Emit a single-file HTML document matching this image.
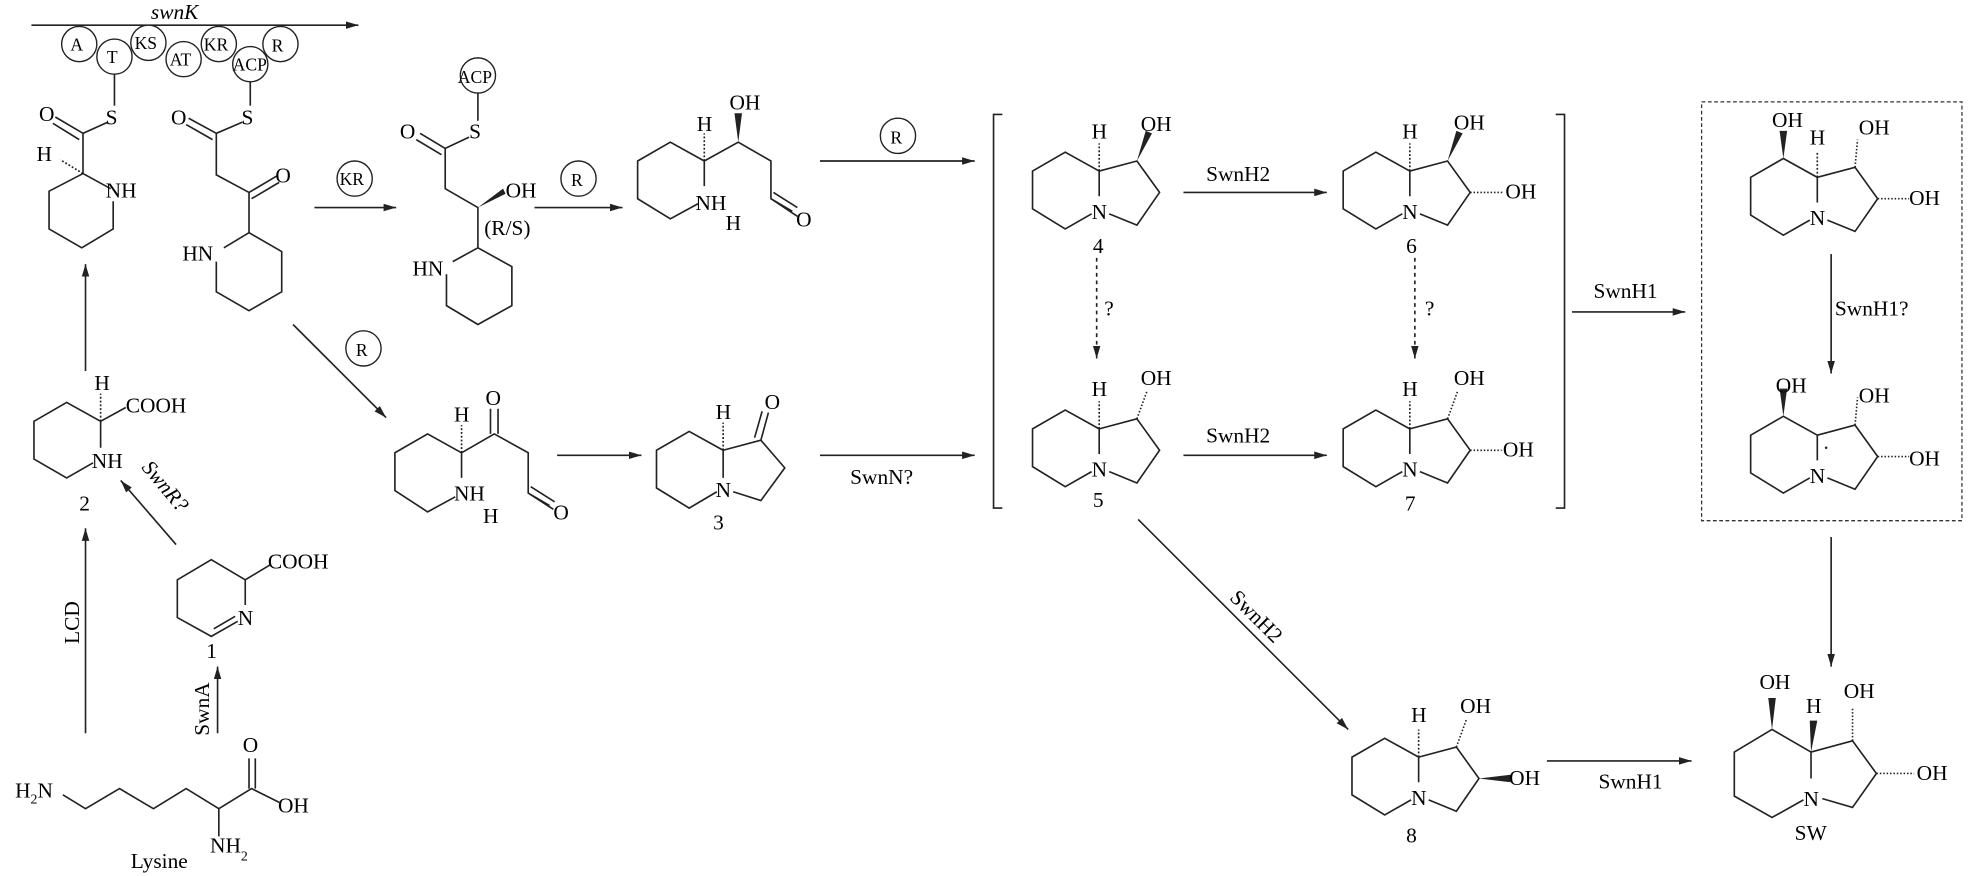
<!DOCTYPE html>
<html><head><meta charset="utf-8"><style>
html,body{margin:0;padding:0;background:#fff}
svg{display:block}
text{font-family:"Liberation Serif",serif;font-size:17px;fill:#000}
.l{stroke:#222;stroke-width:1.3;fill:none}
.c{stroke:#222;stroke-width:1.1;fill:#fff}
.s{font-size:14px}
</style></head><body>
<svg width="1972" height="876" viewBox="0 0 1568 696.5" xmlns="http://www.w3.org/2000/svg">
<defs><marker id="a" markerWidth="10" markerHeight="6" refX="10" refY="3" orient="auto" markerUnits="userSpaceOnUse"><path d="M0,0L10,3L0,6z" fill="#222"/></marker></defs>

<!-- swnK top -->
<line class="l" x1="25" y1="20" x2="285" y2="20" marker-end="url(#a)"/>
<text x="120" y="15" font-style="italic">swnK</text>
<line class="l" x1="91" y1="58" x2="91" y2="84"/><line class="l" x1="199" y1="64" x2="199" y2="84"/>
<g class="s">
<circle class="c" cx="63" cy="35" r="14"/><text x="56" y="40" class="s">A</text>
<circle class="c" cx="91" cy="45" r="14"/><text x="85" y="50" class="s">T</text>
<circle class="c" cx="118" cy="34" r="14"/><text x="107" y="39" class="s">KS</text>
<circle class="c" cx="146" cy="47" r="14"/><text x="135" y="52" class="s">AT</text>
<circle class="c" cx="174" cy="35" r="14"/><text x="162" y="40" class="s">KR</text>
<circle class="c" cx="223" cy="35" r="14"/><text x="216" y="41" class="s">R</text>
<circle class="c" cx="199" cy="51" r="14"/><text x="185" y="56" class="s">ACP</text>
</g>
<!-- Structure A -->
<path class="l" d="M86,97L66,106L66,138M66,138L88,150M90,160L90,182L65,197L39,182L39,152L66,138"/>
<path class="l" d="M66,106L44,93M63,111L42,98"/>
<path class="l" d="M66,138L48,127" stroke-dasharray="1.5,1.5" stroke-width="3"/>
<text x="84" y="99">S</text><text x="31" y="96">O</text><text x="29" y="128">H</text><text x="84" y="157">NH</text>
<!-- Structure B -->
<path class="l" d="M193,97L172,106L172,139L198,153L198,185L178,197M172,208L172,232L198,247L224,232L224,200L198,185"/>
<path class="l" d="M172,106L150,94M169,111L148,99M198,153L220,140M200,158L222,145"/>
<text x="192" y="99">S</text><text x="136" y="99">O</text><text x="219" y="145">O</text><text x="145" y="207">HN</text>
<!-- KR arrow -->
<line class="l" x1="250" y1="165" x2="315" y2="165" marker-end="url(#a)"/>
<circle class="c" cx="282" cy="142" r="14"/><text x="270" y="147" class="s">KR</text>
<!-- Structure C -->
<circle class="c" cx="380" cy="60" r="14"/><text x="364" y="66" class="s">ACP</text>
<path class="l" d="M380,74L380,96M373,109L354,118L354,150L380,165L380,197L360,208M355,218L355,243L380,258L407,243L407,212L380,197"/>
<path class="l" d="M354,118L334,106M351,123L331,111"/>
<path d="M380,165L400,150L402,154z" fill="#222"/>
<text x="373" y="110">S</text><text x="318" y="110">O</text><text x="402" y="157">OH</text><text x="385" y="187">(R/S)</text><text x="328" y="219">HN</text>
<!-- R arrow -->
<line class="l" x1="425" y1="165" x2="495" y2="165" marker-end="url(#a)"/>
<circle class="c" cx="460" cy="142" r="14"/><text x="454" y="148" class="s">R</text>
<!-- Structure D -->
<path class="l" d="M560,128L533,113L507,128L507,158L533,174L555,162M560,128L560,148M560,128L587,113L613,128L613,158L634,172M613,158L630,168M615,153L634,165"/>
<path d="M587,113L584,90L590,90z" fill="#222"/>
<path class="l" d="M560,128L560,106" stroke-dasharray="1.5,1.5" stroke-width="3"/>
<text x="580" y="87">OH</text><text x="554" y="104">H</text><text x="553" y="167">NH</text><text x="577" y="183">H</text><text x="633" y="180">O</text>
<line class="l" x1="652" y1="128" x2="775" y2="128" marker-end="url(#a)"/>
<circle class="c" cx="714" cy="108" r="14"/><text x="708" y="114" class="s">R</text>
<!-- lower R arrow -->
<line class="l" x1="233" y1="258" x2="307" y2="332" marker-end="url(#a)"/>
<circle class="c" cx="289" cy="277" r="14"/><text x="283" y="283" class="s">R</text>
<!-- Structure E -->
<path class="l" d="M367,360L340,345L314,360L314,390L340,407L362,395M367,360L367,380M367,360L393,345L420,360L420,392L440,405M420,392L437,402M422,387L441,399M390,345L390,325M396,345L396,325"/>
<path class="l" d="M367,360L367,338" stroke-dasharray="1.5,1.5" stroke-width="3"/>
<text x="361" y="335">H</text><text x="386" y="322">O</text><text x="361" y="398">NH</text><text x="384" y="416">H</text><text x="440" y="413">O</text>
<line class="l" x1="443" y1="362" x2="510" y2="362" marker-end="url(#a)"/>
<!-- 3 -->
<path class="l" d="M575,358L548,343L522,358L522,388L548,404L570,391M575,358L575,380M575,358L605,350L624,372L605,398L583,391M605,350L611,328M600,348L606,327"/>
<path class="l" d="M575,358L575,336" stroke-dasharray="1.5,1.5" stroke-width="3"/>
<text x="569" y="333">H</text><text x="608" y="325">O</text><text x="569" y="395">N</text><text x="567" y="421">3</text>
<line class="l" x1="652" y1="362" x2="775" y2="362" marker-end="url(#a)"/>
<text x="676" y="385">SwnN?</text>
<!-- brackets -->
<path class="l" d="M797,91L790,91L790,404L797,404M1237,91L1244,91L1244,404L1237,404"/>

<!-- compound 4 -->
<g transform="translate(874,168)">
<path class="l" d="M0,-32L-27,-47L-53,-32L-53,-2L-27,14L-6,2M0,-32L0,-12M0,-32L30,-40L48,-15L30,11L8,2"/>
<path class="l" d="M0,-32L0,-54" stroke-dasharray="1.5,1.5" stroke-width="3"/>
<path d="M30,-40L37,-64L42,-62z" fill="#222"/>
<text x="-6" y="-58">H</text><text x="33" y="-64">OH</text><text x="-6" y="6">N</text><text x="-5" y="33">4</text>
</g>
<line class="l" x1="941" y1="153" x2="1055" y2="153" marker-end="url(#a)"/>
<text x="959" y="144">SwnH2</text>
<!-- compound 6 -->
<g transform="translate(1121,168)">
<path class="l" d="M0,-32L-27,-47L-53,-32L-53,-2L-27,14L-6,2M0,-32L0,-12M0,-32L30,-40L48,-15L30,11L8,2"/>
<path class="l" d="M0,-32L0,-54" stroke-dasharray="1.5,1.5" stroke-width="3"/>
<path class="l" d="M48,-15L75,-15" stroke-dasharray="1.2,1.5" stroke-width="4"/>
<path d="M30,-40L37,-64L42,-62z" fill="#222"/>
<text x="-6" y="-58">H</text><text x="35" y="-65">OH</text><text x="76" y="-10">OH</text><text x="-6" y="6">N</text><text x="-3" y="33">6</text>
</g>
<line class="l" x1="872" y1="205" x2="872" y2="285" stroke-dasharray="3,3" marker-end="url(#a)"/>
<text x="878" y="251">?</text>
<line class="l" x1="1125" y1="205" x2="1125" y2="285" stroke-dasharray="3,3" marker-end="url(#a)"/>
<text x="1133" y="251">?</text>
<!-- compound 5 -->
<g transform="translate(874,373)">
<path class="l" d="M0,-32L-27,-47L-53,-32L-53,-2L-27,14L-6,2M0,-32L0,-12M0,-32L30,-40L48,-15L30,11L8,2"/>
<path class="l" d="M0,-32L0,-54" stroke-dasharray="1.5,1.5" stroke-width="3"/>
<path class="l" d="M30,-40L38,-62" stroke-dasharray="1.2,1.5" stroke-width="4"/>
<text x="-6" y="-58">H</text><text x="33" y="-67">OH</text><text x="-6" y="6">N</text><text x="-5" y="30">5</text>
</g>
<line class="l" x1="941" y1="362" x2="1055" y2="362" marker-end="url(#a)"/>
<text x="959" y="352">SwnH2</text>
<!-- compound 7 -->
<g transform="translate(1121,373)">
<path class="l" d="M0,-32L-27,-47L-53,-32L-53,-2L-27,14L-6,2M0,-32L0,-12M0,-32L30,-40L48,-15L30,11L8,2"/>
<path class="l" d="M0,-32L0,-54" stroke-dasharray="1.5,1.5" stroke-width="3"/>
<path class="l" d="M30,-40L38,-62" stroke-dasharray="1.2,1.5" stroke-width="4"/>
<path class="l" d="M48,-15L73,-15" stroke-dasharray="1.2,1.5" stroke-width="4"/>
<text x="-6" y="-58">H</text><text x="35" y="-67">OH</text><text x="74" y="-10">OH</text><text x="-6" y="6">N</text><text x="-4" y="33">7</text>
</g>
<line class="l" x1="1250" y1="248" x2="1340" y2="248" marker-end="url(#a)"/>
<text x="1267" y="237">SwnH1</text>
<!-- dashed box -->
<rect x="1353" y="81" width="207" height="333" fill="none" stroke="#333" stroke-width="1" stroke-dasharray="3,2"/>
<g transform="translate(1445,173)">
<path class="l" d="M0,-32L-27,-47L-53,-32L-53,-2L-27,14L-6,2M0,-32L0,-12M0,-32L30,-40L48,-15L30,11L8,2"/>
<path class="l" d="M0,-32L0,-52" stroke-dasharray="1.5,1.5" stroke-width="3"/>
<path class="l" d="M30,-40L32,-62" stroke-dasharray="1.2,1.5" stroke-width="4"/>
<path class="l" d="M48,-15L73,-15" stroke-dasharray="1.2,1.5" stroke-width="4"/>
<path d="M-27,-47L-30,-69L-24,-69z" fill="#222"/>
<text x="-36" y="-72">OH</text><text x="-6" y="-58">H</text><text x="33" y="-66">OH</text><text x="73" y="-10">OH</text><text x="-6" y="6">N</text>
</g>
<line class="l" x1="1456" y1="202" x2="1456" y2="297" marker-end="url(#a)"/>
<text x="1459" y="251">SwnH1?</text>
<g transform="translate(1445,378)">
<path class="l" d="M0,-32L-27,-47L-53,-32L-53,-2L-27,14L-6,2M0,-32L0,-12M0,-32L30,-40L48,-15L30,11L8,2"/>
<path class="l" d="M30,-40L32,-62" stroke-dasharray="1.2,1.5" stroke-width="4"/>
<path class="l" d="M48,-15L73,-15" stroke-dasharray="1.2,1.5" stroke-width="4"/>
<path d="M-27,-47L-30,-69L-24,-69z" fill="#222"/>
<circle cx="7" cy="-22" r="1" fill="#222"/>
<text x="-33" y="-66">OH</text><text x="33" y="-58">OH</text><text x="73" y="-8">OH</text><text x="-6" y="6">N</text>
</g>
<line class="l" x1="1456" y1="427" x2="1456" y2="530" marker-end="url(#a)"/>
<!-- SwnH2 diagonal -->
<line class="l" x1="905" y1="413" x2="1072" y2="580" marker-end="url(#a)"/>
<text x="0" y="0" transform="translate(977,476) rotate(45)">SwnH2</text>
<!-- compound 8 -->
<g transform="translate(1128,634)">
<path class="l" d="M0,-32L-27,-47L-53,-32L-53,-2L-27,14L-6,2M0,-32L0,-12M0,-32L30,-40L48,-15L30,11L8,2"/>
<path class="l" d="M0,-32L0,-54" stroke-dasharray="1.5,1.5" stroke-width="3"/>
<path class="l" d="M30,-40L38,-62" stroke-dasharray="1.2,1.5" stroke-width="4"/>
<path d="M48,-15L73,-18L73,-12z" fill="#222"/>
<text x="-6" y="-60">H</text><text x="33" y="-67">OH</text><text x="72" y="-10">OH</text><text x="-6" y="6">N</text><text x="-10" y="36">8</text>
</g>
<line class="l" x1="1230" y1="605" x2="1345" y2="605" marker-end="url(#a)"/>
<text x="1271" y="627">SwnH1</text>
<!-- SW -->
<g transform="translate(1440,633)">
<path class="l" d="M0,-35L-31,-53L-61,-35L-61,0L-31,17L-6,3M0,-35L0,-14M0,-35L33,-44L52,-18L33,9L9,2"/>
<path d="M-31,-53L-34,-78L-28,-78z" fill="#222"/>
<path d="M0,-35L-1,-60L5,-60z" fill="#222"/>
<path class="l" d="M33,-44L33,-70" stroke-dasharray="1.2,1.5" stroke-width="4"/>
<path class="l" d="M52,-18L82,-18" stroke-dasharray="1.2,1.5" stroke-width="4"/>
<text x="-41" y="-85">OH</text><text x="-4" y="-66">H</text><text x="26" y="-78">OH</text><text x="84" y="-13">OH</text><text x="-6" y="8">N</text><text x="-13" y="35">SW</text>
</g>

<!-- left column -->
<line class="l" x1="68" y1="295" x2="68" y2="210" marker-end="url(#a)"/>
<path class="l" d="M80,335L53,320L27,335L27,365L53,380L74,368M80,335L80,356M80,335L100,324"/>
<path class="l" d="M80,335L80,313" stroke-dasharray="1.5,1.5" stroke-width="3"/>
<text x="75" y="310">H</text><text x="100" y="328">COOH</text><text x="73" y="372">NH</text><text x="63" y="406">2</text>
<line class="l" x1="140" y1="433" x2="96" y2="382" marker-end="url(#a)"/>
<text x="0" y="0" font-style="italic" transform="translate(112,372) rotate(50)">SwnR?</text>
<line class="l" x1="68" y1="583" x2="68" y2="420" marker-end="url(#a)"/>
<text x="0" y="0" transform="translate(63,512) rotate(-90)">LCD</text>
<path class="l" d="M195,461L168,445L141,461L141,491L168,506L189,494M170,500L187,490M195,461L195,481M195,461L215,449"/>
<text x="213" y="452">COOH</text><text x="189" y="497">N</text><text x="164" y="523">1</text>
<line class="l" x1="173" y1="583" x2="173" y2="530" marker-end="url(#a)"/>
<text x="0" y="0" transform="translate(166,585) rotate(-90)">SwnA</text>
<path class="l" d="M50,632L68,643L95,627L122,643L148,627L174,643L200,627L222,638M174,643L174,665M198,627L198,603M203,627L203,603"/>
<text x="12" y="634">H<tspan font-size="11" dy="5">2</tspan><tspan dy="-5">N</tspan></text>
<text x="193" y="598">O</text><text x="221" y="646">OH</text>
<text x="167" y="678">NH<tspan font-size="11" dy="6">2</tspan></text>
<text x="104" y="690">Lysine</text>
</svg>
</body></html>
